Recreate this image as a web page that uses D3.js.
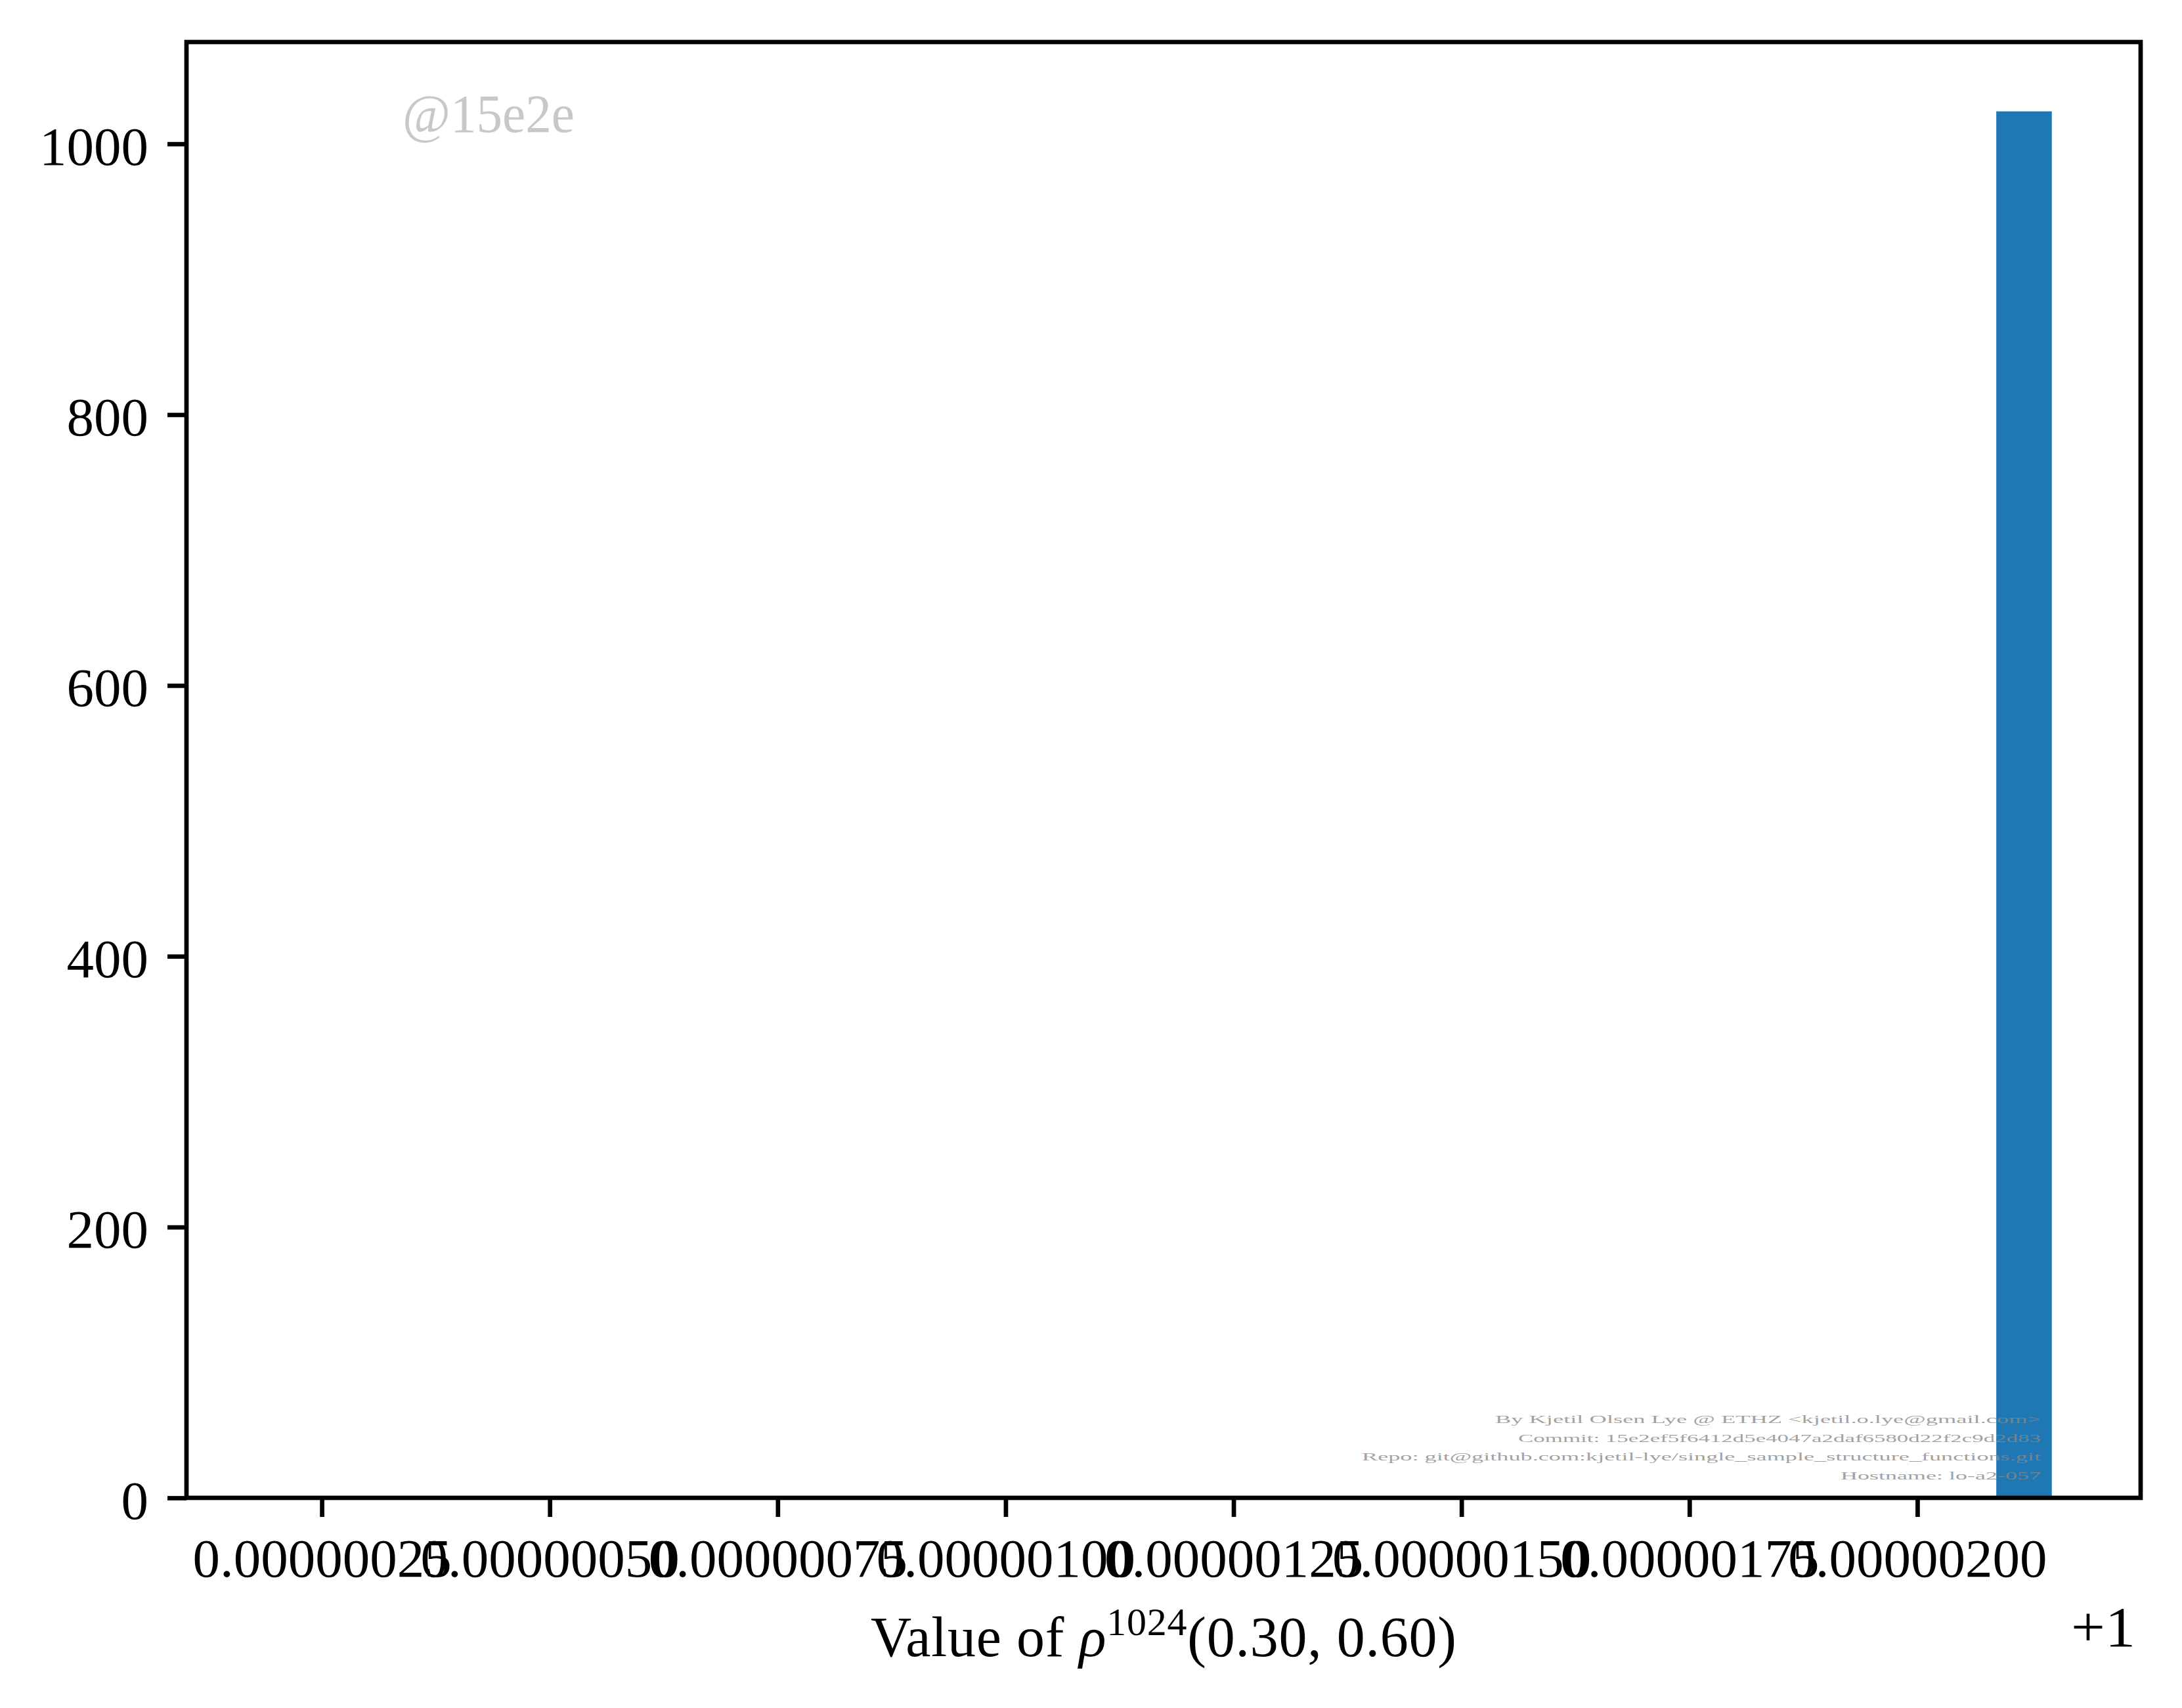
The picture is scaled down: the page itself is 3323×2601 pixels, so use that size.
<!DOCTYPE html>
<html>
<head>
<meta charset="utf-8">
<script src="https://cdn.jsdelivr.net/npm/d3@7"></script>
<style>
  html, body { margin: 0; padding: 0; background: #ffffff; }
  svg { display: block; }
</style>
</head>
<body>
<script>
// ---------------- data ----------------
const valueOffset = 1;                       // matplotlib offset text "+1"
const histRangeMin = 0.000000199;            // lower edge of histogram range (offset from 1)
const histRangeMax = 0.0000021475;           // upper edge of histogram range (offset from 1)
const binLeft  = [0.0000020866];             // non-empty bin(s), offset from 1
const binRight = [0.0000021475];
const binCount = [1024];

const xTickValues = [0.00000025, 0.00000050, 0.00000075, 0.00000100, 0.00000125, 0.00000150, 0.00000175, 0.00000200];
const xTickLabels = ["0.00000025", "0.00000050", "0.00000075", "0.00000100", "0.00000125", "0.00000150", "0.00000175", "0.00000200"];
const yTickValues = [0, 200, 400, 600, 800, 1000];
const yTickLabels = ["0", "200", "400", "600", "800", "1000"];

const watermark = "@15e2e";
const creditLines = [
  "By Kjetil Olsen Lye @ ETHZ <kjetil.o.lye@gmail.com>",
  "Commit: 15e2ef5f6412d5e4047a2daf6580d22f2c9d2d83",
  "Repo: git@github.com:kjetil-lye/single_sample_structure_functions.git",
  "Hostname: lo-a2-057"
];
const creditWidths = [831, 796, 1034, 305];

// ---------------- layout ----------------
const W = 3323, H = 2601;
const plot = { left: 284, right: 3260, top: 64, bottom: 2281 };
const FONT = "'Liberation Serif', 'Times New Roman', serif";
const tickFont = 83;
const lw = 6.7;
const tickLen = 29;

const svg = d3.select("body").append("svg")
  .attr("width", W).attr("height", H)
  .attr("viewBox", `0 0 ${W} ${H}`);

svg.append("rect").attr("width", W).attr("height", H).attr("fill", "#ffffff");

const pad = (histRangeMax - histRangeMin) * 0.05;
const x = d3.scaleLinear()
  .domain([valueOffset + histRangeMin - pad, valueOffset + histRangeMax + pad])
  .range([plot.left, plot.right]);

const yMax = d3.max(binCount) * 1.05;
const y = d3.scaleLinear().domain([0, yMax]).range([plot.bottom, plot.top]);

// bars
svg.append("g").selectAll("rect")
  .data(binCount.map((c, i) => ({ x0: valueOffset + binLeft[i], x1: valueOffset + binRight[i], c })))
  .join("rect")
  .attr("x", d => x(d.x0))
  .attr("width", d => x(d.x1) - x(d.x0))
  .attr("y", d => y(d.c))
  .attr("height", d => y(0) - y(d.c))
  .attr("fill", "#1f77b4");

// watermark
svg.append("text")
  .attr("x", 613).attr("y", 201)
  .attr("font-family", FONT).attr("font-size", tickFont)
  .attr("fill", "#c8c8c8")
  .attr("textLength", 262).attr("lengthAdjust", "spacingAndGlyphs")
  .text(watermark);

// credits (drawn above bar)
const credits = svg.append("g");
creditLines.forEach((line, i) => {
  credits.append("text")
    .attr("x", 3108).attr("y", 2167 + i * 28.5)
    .attr("text-anchor", "end")
    .attr("font-family", FONT).attr("font-size", 17)
    .attr("fill", "#888888").attr("fill-opacity", 0.8)
    .attr("textLength", creditWidths[i]).attr("lengthAdjust", "spacingAndGlyphs")
    .text(line);
});

// x axis
const xAxis = d3.axisBottom(x)
  .tickValues(xTickValues.map(v => valueOffset + v))
  .tickFormat((d, i) => xTickLabels[i])
  .tickSizeInner(tickLen).tickSizeOuter(0).tickPadding(0);
const gx = svg.append("g").attr("transform", `translate(0,${plot.bottom})`).call(xAxis);
gx.select(".domain").remove();
gx.selectAll(".tick line").attr("stroke", "#000").attr("stroke-width", lw);
gx.selectAll(".tick text")
  .attr("font-family", FONT).attr("font-size", tickFont)
  .attr("fill", "#000").attr("dy", null).attr("y", 120);

// y axis
const yAxis = d3.axisLeft(y)
  .tickValues(yTickValues)
  .tickFormat((d, i) => yTickLabels[i])
  .tickSizeInner(tickLen).tickSizeOuter(0).tickPadding(0);
const gy = svg.append("g").attr("transform", `translate(${plot.left},0)`).call(yAxis);
gy.select(".domain").remove();
gy.selectAll(".tick line").attr("stroke", "#000").attr("stroke-width", lw);
gy.selectAll(".tick text")
  .attr("font-family", FONT).attr("font-size", tickFont)
  .attr("fill", "#000").attr("dy", null).attr("x", -58).attr("y", 31);

// spines
svg.append("rect")
  .attr("x", plot.left).attr("y", plot.top)
  .attr("width", plot.right - plot.left).attr("height", plot.bottom - plot.top)
  .attr("fill", "none").attr("stroke", "#000").attr("stroke-width", lw)
  .attr("stroke-linejoin", "miter");

// offset text
svg.append("text")
  .attr("x", plot.right - 8).attr("y", 2507)
  .attr("text-anchor", "end")
  .attr("font-family", FONT).attr("font-size", 86).attr("fill", "#000")
  .attr("textLength", 98).attr("lengthAdjust", "spacingAndGlyphs")
  .text("+1");

// x label
const xl = svg.append("text")
  .attr("x", (plot.left + plot.right) / 2).attr("y", 2522)
  .attr("text-anchor", "middle")
  .attr("font-family", FONT).attr("font-size", 86).attr("fill", "#000")
  .attr("textLength", 892).attr("lengthAdjust", "spacing");
xl.append("tspan").text("Value of ");
xl.append("tspan").attr("font-style", "italic").text("ρ");
xl.append("tspan").attr("font-size", 60).attr("dy", -32).text("1024");
xl.append("tspan").attr("dy", 32).text("(0.30, 0.60)");
</script>
</body>
</html>
